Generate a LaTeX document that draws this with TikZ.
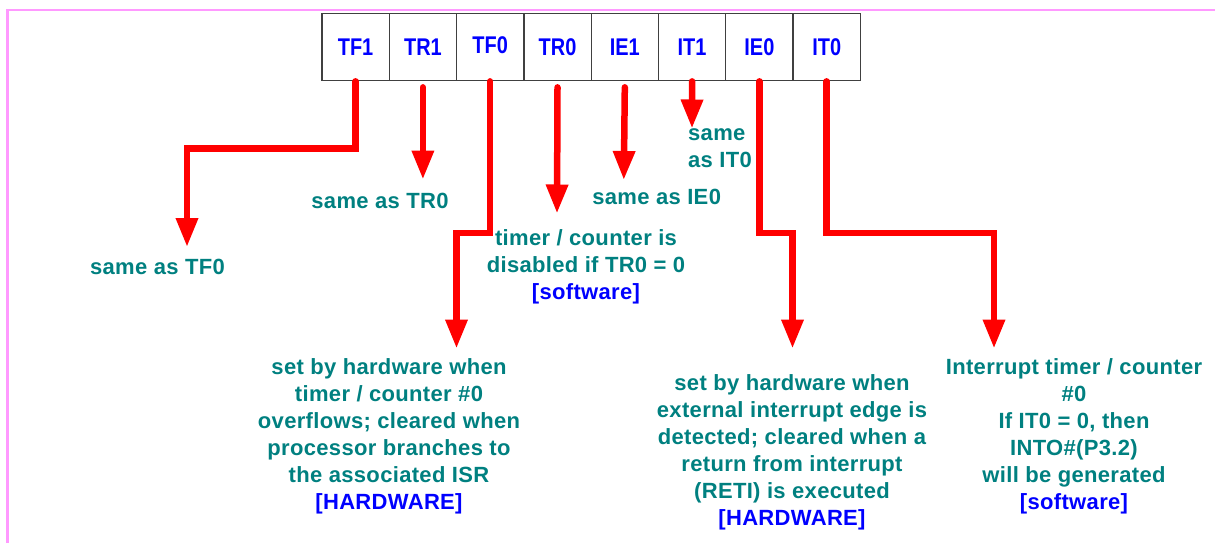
\documentclass[tikz,border=0pt]{standalone}
\usepackage{fontspec}
\setmainfont{Liberation Sans}
\usetikzlibrary{arrows.meta}
\definecolor{tealtxt}{RGB}{0,128,128}
\definecolor{bluetxt}{RGB}{0,0,255}
\definecolor{redline}{RGB}{255,0,0}
\definecolor{pinkframe}{RGB}{255,153,255}
\definecolor{boxgray}{RGB}{64,64,64}
\newcommand{\reglabel}[1]{\scalebox{0.95}[1.15]{#1}}
\begin{document}
\begin{tikzpicture}[x=1pt,y=-1pt,
  cell/.style={draw=boxgray,line width=1.3pt,minimum width=67.3pt,minimum height=67.4pt,inner sep=0pt,
    font=\fontsize{21}{24}\selectfont\bfseries,text=bluetxt},
  note/.style={font=\fontsize{22}{26.9}\selectfont\bfseries\addfontfeatures{LetterSpace=1.5},text=tealtxt,align=center,inner sep=0pt},
  conn/.style={draw=redline,line width=6.5pt,line cap=round,line join=miter,
    -{Triangle[width=21pt,length=29pt]}},
  frame/.style={draw=pinkframe,line width=2.6pt}
]
\useasboundingbox (0,0) rectangle (1215,543);
% pink frame (top and left edges)
\draw[frame] (7.7,545) -- (7.7,10) -- (1217,10);

% register cells
\node[cell] (c1) at (355.6,47) {\reglabel{TF1}};
\node[cell] (c2) at (422.9,47) {\reglabel{TR1}};
\node[cell] (c3) at (490.2,47) {\raisebox{3pt}{\reglabel{TF0}}};
\node[cell] (c4) at (557.5,47) {\reglabel{TR0}};
\node[cell] (c5) at (624.8,47) {\reglabel{IE1}};
\node[cell] (c6) at (692.1,47) {\reglabel{IT1}};
\node[cell] (c7) at (759.4,47) {\reglabel{IE0}};
\node[cell] (c8) at (826.7,47) {\reglabel{IT0}};

% arrow tips
\coordinate (tip1) at (187,247);
\coordinate (tip2) at (422.9,179.5);
\coordinate (tip3) at (456.5,348.5);
\coordinate (tip4) at (557,213.5);
\coordinate (tip5) at (623.8,180);
\coordinate (tip6) at (692,128.5);
\coordinate (tip7) at (792.5,348.5);
\coordinate (tip8) at (994,348.5);

% connectors
\draw[conn] (c1.south) -- ++(0,67.3) -| (tip1);
\draw[conn] ([yshift=-6pt]c2.south) -- (tip2);
\draw[conn] (c3.south) -- ++(0,151.6) -| (tip3);
\draw[conn] ([yshift=-6pt]c4.south) -- (tip4);
\draw[conn] ([yshift=-6pt]c5.south) -- (tip5);
\draw[conn] (c6.south) -- (tip6);
\draw[conn] (c7.south) -- ++(0,151.6) -| (tip7);
\draw[conn] (c8.south) -- ++(0,151.6) -| (tip8);

% texts
\node[note] (n1) at (157.5,267) {same as TF0};
\node[note] (n2) at (380,200.7) {same as TR0};
\node[note] (n3) at (389,436.5) {set by hardware when\\timer / counter \#0\\overflows; cleared when\\processor branches to\\the associated ISR\\\textcolor{bluetxt}{[HARDWARE]}};
\node[note] (n4) at (586,266.7) {timer / counter is\\disabled if TR0 = 0\\\textcolor{bluetxt}{[software]}};
\node[note] (n5) at (656.7,196.7) {same as IE0};
\node[note,align=left,anchor=west] (n6) at (688,148.5) {same\\as IT0};
\node[note] (n7) at (792,452.5) {set by hardware when\\external interrupt edge is\\detected; cleared when a\\return from interrupt\\(RETI) is executed\\\textcolor{bluetxt}{[HARDWARE]}};
\node[note] (n8) at (1074,436.5) {Interrupt timer / counter\\\#0\\If IT0 = 0, then\\INTO\#(P3.2)\\will be generated\\\textcolor{bluetxt}{[software]}};
\end{tikzpicture}
\end{document}
